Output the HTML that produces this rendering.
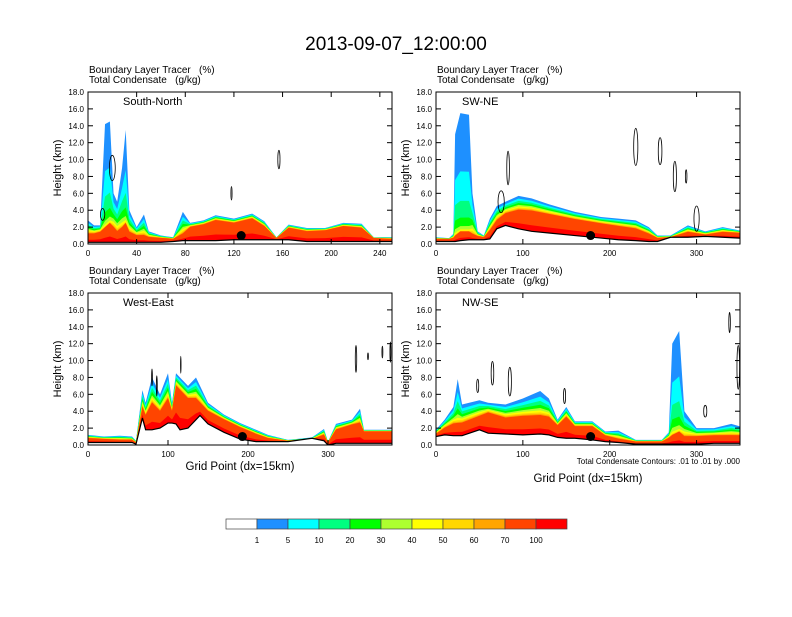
<!DOCTYPE html>
<html><head><meta charset="utf-8"><style>
body{margin:0;background:#fff;width:792px;height:612px;overflow:hidden;font-family:"Liberation Sans",sans-serif}
svg text{font-family:"Liberation Sans",sans-serif}
</style></head><body>
<svg id="chart" width="792" height="612" xmlns="http://www.w3.org/2000/svg">
<text x="396" y="50" text-anchor="middle" font-size="19">2013-09-07_12:00:00</text>
</svg>
<script>
// ---- data ----
const colorLevels = ["", "1", "5", "10", "20", "30", "40", "50", "60", "70", "100"];
const colors = ["#ffffff","#1e90ff","#00ffff","#00ff80","#00ff00","#adff2f","#ffff00","#ffd700","#ffa500","#ff4500","#ff0000"];
const yTicks = [0,2,4,6,8,10,12,14,16,18];
const p1X = [0,5,10,14,18,21,24,28,31,34,40,46,50,60,70,78,84,95,105,120,135,145,155,165,180,195,210,225,235,250];
const p1Top = [2.8,2.2,2.2,14.2,14.5,6,5,9,13.5,4,2,3.5,1.5,1.0,0.8,3.8,2.5,2.8,3.4,3.0,3.6,2.7,0.8,2.3,1.9,1.9,2.5,2.4,0.8,0.8];
const p1Core = [1.2,1.2,1.4,2,2.5,2,1.5,2,2.5,1.4,1.0,1,0.8,0.7,0.6,1.2,2.0,2.3,2.8,2.5,3.0,2.1,0.7,1.9,1.5,1.6,2.1,1.9,0.7,0.6];
const p1Terrain = [0.2,0.2,0.2,0.2,0.2,0.2,0.2,0.2,0.2,0.2,0.2,0.2,0.2,0.2,0.3,0.4,0.4,0.4,0.4,0.5,0.5,0.5,0.5,0.5,0.3,0.3,0.3,0.3,0.3,0.3];
const p2X = [0,15,20,22,28,38,42,48,55,62,70,80,95,110,130,160,190,210,230,245,255,270,290,310,330,350];
const p2Top = [0.8,0.7,1.2,13,15.5,15.3,6,1.5,1.0,3,4.5,5,5.7,5.4,4.7,3.8,3.2,3.0,2.8,2.0,1.0,1.0,2.2,1.5,2.0,1.6];
const p2Core = [0.6,0.6,0.7,1,1.5,1.5,1.2,0.9,0.8,1.6,2.8,3.6,4.0,3.9,3.5,2.9,2.4,2.1,1.8,1.2,0.7,0.8,1.4,1.1,1.4,1.3];
const p2Terrain = [0.3,0.3,0.3,0.3,0.4,0.5,0.5,0.5,0.5,0.6,1.8,2.2,1.8,1.5,1.3,1.0,0.7,0.5,0.4,0.3,0.3,0.8,0.8,0.9,0.8,0.7];
const p3X = [0,20,40,55,60,68,72,80,90,100,105,110,115,125,135,140,150,170,190,210,225,250,280,295,300,310,330,340,345,380];
const p3Top = [1.2,1.0,1.1,1.0,0.5,6.5,5,8,6,8.5,5,8.5,8,7,8,7,5,3.6,2.6,1.8,1.2,0.6,0.9,1.9,0.4,2.5,3,4.3,1.8,1.8];
const p3Core = [0.8,0.7,0.6,0.6,0.3,4.5,3.5,5,4,5.5,4,7,6.5,5.5,5.5,5.0,4.0,3.0,2.1,1.3,0.8,0.5,0.7,1.2,0.3,1.8,2.4,2.6,1.6,1.6];
const p3Terrain = [0.3,0.3,0.3,0.3,0.1,3.2,1.8,1.8,2.0,2.6,2.6,2.5,1.8,2.0,3.0,3.5,2.5,1.5,0.7,0.4,0.4,0.4,0.8,0.5,0.0,0.2,0.2,0.2,0.2,0.2];
const p4X = [0,10,20,25,30,50,60,80,100,120,130,140,150,160,180,195,210,230,260,268,272,280,286,300,320,340,350];
const p4Top = [1.8,3,4.5,7.8,4.8,5.3,5.0,4.8,5.5,6.4,5.5,3.0,4.5,2.8,2.8,1.6,1.7,0.6,0.6,1.5,12,13.5,4,2.0,2.0,2.5,2.2];
const p4Core = [1.3,2.0,2.5,2.6,2.6,3.4,3.8,3.2,3.4,3.5,3.3,2.3,3.3,2.2,2.2,1.1,0.7,0.4,0.4,0.8,1.2,1.6,1.0,1.0,1.1,1.1,1.1];
const p4Terrain = [1.0,1.2,1.1,1.1,1.1,1.8,1.4,1.3,1.2,1.3,1.2,0.9,0.8,0.8,0.6,0.4,0.3,0.1,0.1,0.1,0.1,0.1,0.1,0.1,0.2,0.2,0.2];
const panelTitles = ["South-North","SW-NE","West-East","NW-SE"];
const panelXMax = [250,350,380,350];
const panelXTicks = [[0,40,80,120,160,200,240],[0,100,200,300],[0,100,200,300],[0,100,200,300]];
const dotX = [126,178,193,178];
const dotH = [1.0,1.0,1.0,1.0];
const contourEllipses = [
 [[157,10,1.5,1.1],[118,6,0.8,0.8],[20,9,4,1.5],[12,3.5,3,0.7]],
 [[230,11.5,4,2.2],[258,11,3.5,1.6],[275,8,3,1.8],[288,8,1.5,0.8],[83,9,2.5,2],[75,5,6,1.3],[300,3,5,1.5]],
 [[80,8,1,1],[86,7,1,1.2],[116,9.5,0.5,1],[335,10.2,1.5,1.6],[350,10.5,1,0.4],[378,11,1,1.2],[368,11,1,0.7]],
 [[65,8.5,2.5,1.4],[48,7,2,0.8],[85,7.5,3,1.7],[148,5.8,2,0.9],[348,9.2,2.5,2.6],[338,14.5,1.5,1.2],[310,4,3,0.7]]
];
// ---- drawing ----
const NS="http://www.w3.org/2000/svg";
const svg=document.getElementById('chart');
function mk(tag,attrs,parent){const e=document.createElementNS(NS,tag);for(const k in attrs)e.setAttribute(k,attrs[k]);(parent||svg).appendChild(e);return e;}
const panels=[
 {x0:88,y0:92,xs:p1X,top:p1Top,core:p1Core,ter:p1Terrain},
 {x0:436,y0:92,xs:p2X,top:p2Top,core:p2Core,ter:p2Terrain},
 {x0:88,y0:293,xs:p3X,top:p3Top,core:p3Core,ter:p3Terrain},
 {x0:436,y0:293,xs:p4X,top:p4Top,core:p4Core,ter:p4Terrain}
];
const W=304,H=152;
const fracs=[1,0.86,0.74,0.62,0.5,0.4,0.3,0.2,0.1];
panels.forEach((p,i)=>{
 const g=mk('g',{});
 
 
 const sx=v=>p.x0+v/panelXMax[i]*W;
 const sy=h=>p.y0+H-h/18*H;
 const hdr1=mk('text',{x:p.x0+1,y:p.y0-19,'font-size':'10'},g);hdr1.textContent='Boundary Layer Tracer\u00a0\u00a0\u00a0(%)';
 
 const hdr2=mk('text',{x:p.x0+1,y:p.y0-9,'font-size':'10'},g);hdr2.textContent='Total Condensate\u00a0\u00a0\u00a0(g/kg)';
 
 const clip=mk('clipPath',{id:'c'+i},g);mk('rect',{x:p.x0,y:p.y0,width:W,height:H},clip);
 const fg=mk('g',{'clip-path':'url(#c'+i+')'},g);
 for(let L=0;L<fracs.length;L++){
  let d='M'+p.x0+','+(p.y0+H);
  p.xs.forEach((x,k)=>{const dep=p.top[k]-p.core[k];const h=p.core[k]+dep*Math.pow(fracs[L],1+dep/4);d+=' L'+sx(x)+','+sy(h);});
  d+=' L'+sx(panelXMax[i])+','+(p.y0+H)+' Z';
  const band=mk('path',{d:d,fill:colors[L+1]},fg);
  
  
 }
 let dr='M'+p.x0+','+(p.y0+H);
 p.xs.forEach((x,k)=>{const h=p.ter[k]+(p.core[k]-p.ter[k])*0.3;dr+=' L'+sx(x)+','+sy(h);});
 dr+=' L'+sx(panelXMax[i])+','+(p.y0+H)+' Z';
 const red=mk('path',{d:dr,fill:colors[10]},fg);
 
 
 let dt='M'+p.x0+','+(p.y0+H),lt='';
 p.xs.forEach((x,k)=>{dt+=' L'+sx(x)+','+sy(p.ter[k]);lt+=(k?' L':'M')+sx(x)+','+sy(p.ter[k]);});
 dt+=' L'+sx(panelXMax[i])+','+(p.y0+H)+' Z';
 const ter=mk('path',{d:dt,fill:'#fff'},fg);
 
 
 const tl=mk('path',{d:lt,fill:'none',stroke:'#000','stroke-width':'1.2'},fg);
 
 
 contourEllipses[i].forEach(e=>{
  const el=mk('ellipse',{cx:sx(e[0]),cy:sy(e[1]),rx:e[2]/panelXMax[i]*W*0.6,ry:e[3]/18*H,fill:'none',stroke:'#000','stroke-width':'0.8'},fg);
  
  
 });
 const dot=mk('circle',{cx:sx(dotX[i]),cy:sy(dotH[i]),r:4.5,fill:'#000'},fg);
 
 
 const fr=mk('rect',{x:p.x0,y:p.y0,width:W,height:H,fill:'none',stroke:'#000','stroke-width':'1'},g);
 
 yTicks.forEach(t=>{
  const y=sy(t);
  mk('line',{x1:p.x0,x2:p.x0+5,y1:y,y2:y,stroke:'#000'},g);
  mk('line',{x1:p.x0+W,x2:p.x0+W-5,y1:y,y2:y,stroke:'#000'},g);
  const tx=mk('text',{x:p.x0-4,y:y+3,'font-size':'8','text-anchor':'end'},g);tx.textContent=t.toFixed(1);
  
 });
 panelXTicks[i].forEach(t=>{
  const x=sx(t);
  mk('line',{x1:x,x2:x,y1:p.y0+H,y2:p.y0+H-5,stroke:'#000'},g);
  mk('line',{x1:x,x2:x,y1:p.y0,y2:p.y0+5,stroke:'#000'},g);
  const tx=mk('text',{x:x,y:p.y0+H+12,'font-size':'8','text-anchor':'middle'},g);tx.textContent=t;
  
 });
 const yt=mk('text',{x:0,y:0,'font-size':'11','text-anchor':'middle',transform:'translate('+(p.x0-27)+','+(p.y0+H/2)+') rotate(-90)'},g);
 yt.textContent='Height (km)';
 
 const pt=mk('text',{x:p.x0+(i%2?26:35),y:p.y0+13,'font-size':'11'},g);pt.textContent=panelTitles[i];
 
});
const xa1=mk('text',{x:240,y:470,'font-size':'11.5','text-anchor':'middle'});xa1.textContent='Grid Point (dx=15km)';

const xa2=mk('text',{x:588,y:482,'font-size':'11.5','text-anchor':'middle'});xa2.textContent='Grid Point (dx=15km)';

const note=mk('text',{x:740,y:464,'font-size':'8','text-anchor':'end'});note.textContent='Total Condensate Contours: .01 to .01 by .000';

const cbx=226,cbw=31,cby=519,cbh=10;
colors.forEach((c,k)=>{
 const r=mk('rect',{x:cbx+k*cbw,y:cby,width:cbw,height:cbh,fill:c,stroke:'#444','stroke-width':'0.7'});
 
 if(k>0){const t=mk('text',{x:cbx+k*cbw,y:cby+24,'font-size':'8','text-anchor':'middle'});t.textContent=colorLevels[k];
 }
});
</script>
</body></html>
